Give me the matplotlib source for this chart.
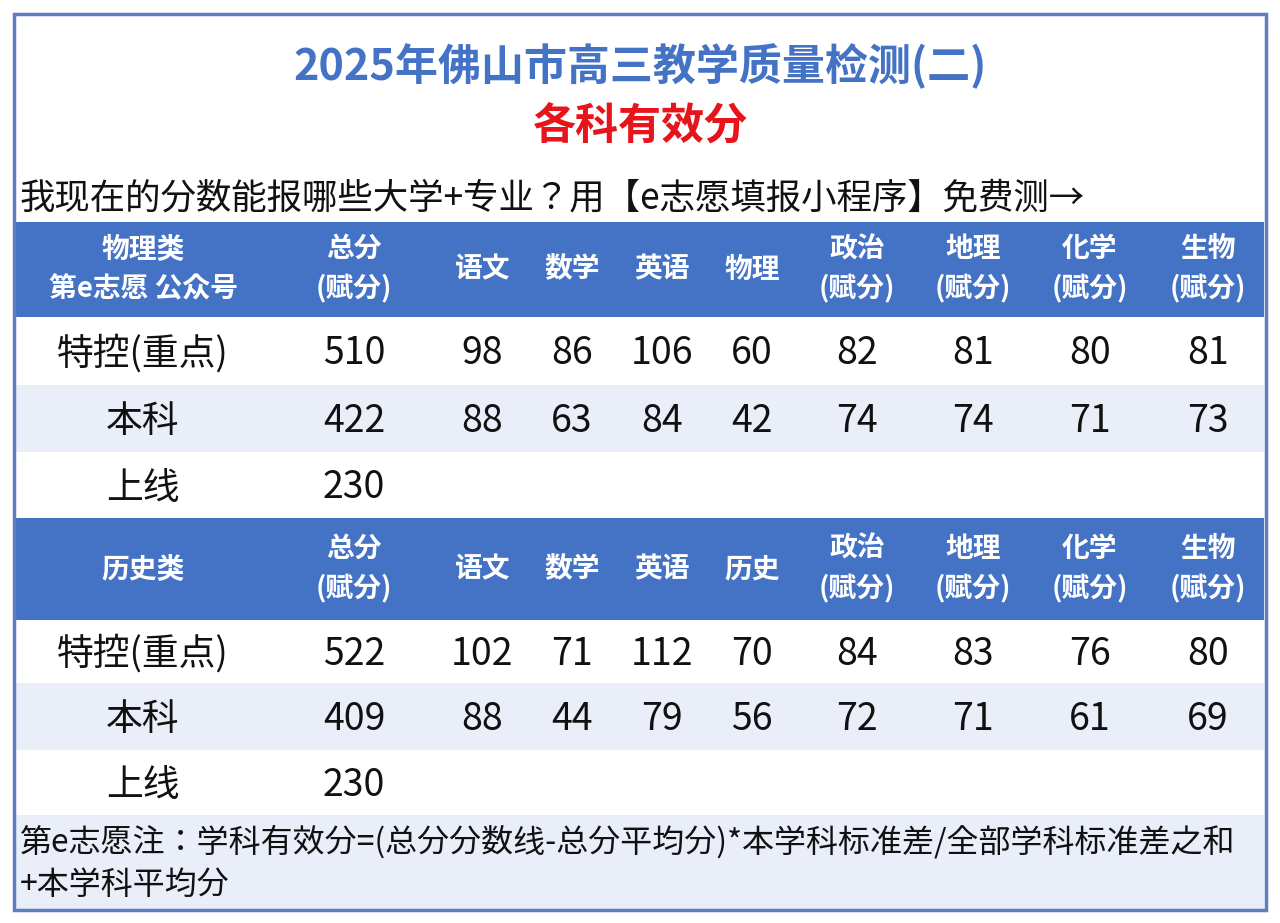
import matplotlib
matplotlib.use("Agg")
import matplotlib.pyplot as plt
from matplotlib.patches import Rectangle
from matplotlib import font_manager as fm
import os

cands = [f for f in fm.findSystemFonts() if "cjk" in f.lower()]
for f in cands:
    try:
        fm.fontManager.addfont(f)
    except Exception:
        pass
names = sorted({fm.FontProperties(fname=f).get_name() for f in cands}) if cands else []
pick = [n for n in names if "SC" in n] or names
plt.rcParams["font.family"] = [pick[0]] if pick else ["Noto Sans CJK SC"]

title1 = "2025年佛山市高三教学质量检测(二)"
title2 = "各科有效分"
promo = "我现在的分数能报哪些大学+专业？用【e志愿填报小程序】免费测→"
header1 = ["物理类\n第e志愿 公众号", "总分\n(赋分)", "语文", "数学", "英语", "物理", "政治\n(赋分)", "地理\n(赋分)", "化学\n(赋分)", "生物\n(赋分)"]
header2 = ["历史类", "总分\n(赋分)", "语文", "数学", "英语", "历史", "政治\n(赋分)", "地理\n(赋分)", "化学\n(赋分)", "生物\n(赋分)"]
row_labels = ["特控(重点)", "本科", "上线"]
phys_values = [[510, 98, 86, 106, 60, 82, 81, 80, 81],
               [422, 88, 63, 84, 42, 74, 74, 71, 73],
               [230]]
hist_values = [[522, 102, 71, 112, 70, 84, 83, 76, 80],
               [409, 88, 44, 79, 56, 72, 71, 61, 69],
               [230]]
note = "第e志愿注：学科有效分=(总分分数线-总分平均分)*本学科标准差/全部学科标准差之和\n+本学科平均分"

W, H = 1280, 923
fig = plt.figure(figsize=(W/100, H/100), dpi=100)
ax = fig.add_axes([0, 0, 1, 1])
ax.set_xlim(0, W); ax.set_ylim(H, 0); ax.axis("off")

blue = "#4472C4"; light = "#E9EEF8"
cx = [143, 354, 482, 572, 662, 752, 857, 973, 1090, 1208]
L, R = 16, 1264

def rect(y0, y1, c):
    ax.add_patch(Rectangle((L, y0), R-L, y1-y0, color=c, lw=0))

ax.text(640, 66, title1, ha="center", va="center", fontsize=31, weight="bold", color=blue)
ax.text(640, 126, title2, ha="center", va="center", fontsize=31, weight="bold", color="#E8141B")
ax.text(20, 198, promo, ha="left", va="center", fontsize=25.5, color="#111111")

def block(y_head, header, values, ys):
    rect(y_head[0], y_head[1], blue)
    ym = (y_head[0]+y_head[1])/2
    for x, h in zip(cx, header):
        ax.text(x, ym, h, ha="center", va="center", fontsize=20, weight="bold", color="white", linespacing=1.5)
    for i, (lab, vals) in enumerate(zip(row_labels, values)):
        y0, y1 = ys[i]
        if i == 1:
            rect(y0, y1, light)
        yc = (y0+y1)/2 + 3
        ax.text(cx[0], yc, lab, ha="center", va="center", fontsize=26.5, color="#111111")
        for x, v in zip(cx[1:], vals):
            ax.text(x, yc, str(v), ha="center", va="center", fontsize=27, color="#111111")

block((222, 317), header1, phys_values, [(317, 385), (385, 452), (452, 518)])
block((518, 620), header2, hist_values, [(620, 683), (683, 750), (750, 815)])
rect(815, 909, light)
ax.text(20, 863, note, ha="left", va="center", fontsize=23, color="#111111", linespacing=1.4)

ax.add_patch(Rectangle((14, 14), 1252, 896, fill=False, ec="#5B7FC0", lw=2.5))
fig.savefig("out.png", dpi=100, facecolor="white")
